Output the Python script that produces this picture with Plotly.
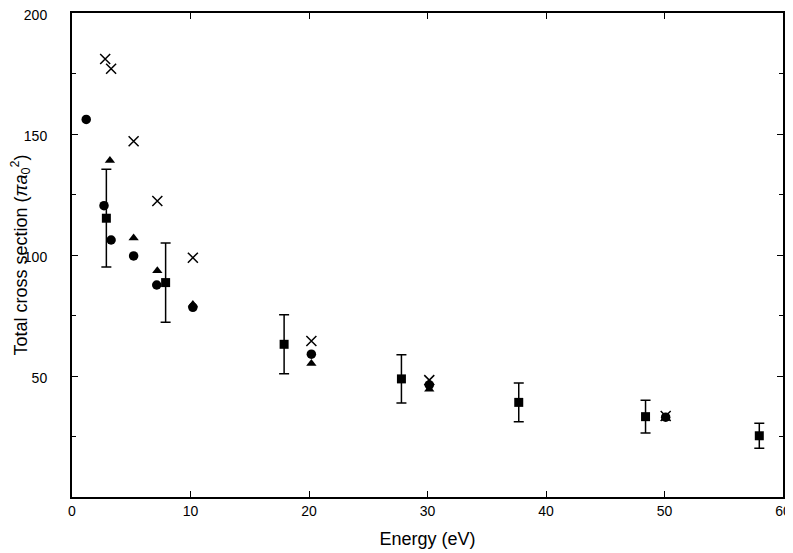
import plotly.graph_objects as go

# =========================
# 0. DATA
# =========================
# measured points, squares with error bars
sq_energy = [2.9, 7.9, 17.9, 27.8, 37.7, 48.4, 58.0]
sq_sigma = [115.2, 88.6, 63.1, 48.8, 39.1, 33.2, 25.3]
sq_err = [20.2, 16.4, 12.2, 10.0, 8.0, 6.8, 5.2]

# circles
ci_energy = [1.2, 2.7, 3.3, 5.2, 7.15, 10.2, 20.2, 30.15, 50.1]
ci_sigma = [156.0, 120.4, 106.2, 99.6, 87.6, 78.4, 59.0, 46.3, 33.0]

# triangles
tr_energy = [3.2, 5.2, 7.2, 10.2, 20.2, 30.15, 50.1]
tr_sigma = [139.0, 107.0, 93.5, 79.5, 55.2, 44.5, 32.5]

# crosses
cr_energy = [2.8, 3.3, 5.2, 7.2, 10.2, 20.2, 30.15, 50.1]
cr_sigma = [181.0, 177.0, 147.0, 122.3, 98.9, 64.5, 48.3, 33.5]

X_TICKS = [0, 10, 20, 30, 40, 50, 60]
Y_TICKS = [50, 100, 150, 200]

# =========================
# 1. BUILD FIGURE
# =========================
fig = go.Figure()

fig.add_trace(go.Scatter(
    x=cr_energy, y=cr_sigma, mode="markers",
    marker=dict(symbol="x-thin-open", size=10, color="black",
                line=dict(color="black", width=1.5)),
))
fig.add_trace(go.Scatter(
    x=tr_energy, y=tr_sigma, mode="markers",
    marker=dict(symbol="triangle-up", size=9, color="black"),
))
fig.add_trace(go.Scatter(
    x=ci_energy, y=ci_sigma, mode="markers",
    marker=dict(symbol="circle", size=9.5, color="black"),
))
fig.add_trace(go.Scatter(
    x=sq_energy, y=sq_sigma, mode="markers",
    marker=dict(symbol="square", size=9, color="black"),
    error_y=dict(type="data", array=sq_err, visible=True,
                 color="black", thickness=1.5, width=5),
))

axis_style = dict(
    showline=True, linecolor="black", linewidth=2, mirror="ticks",
    ticks="inside", ticklen=6, tickwidth=1, tickcolor="black",
    showgrid=False, zeroline=False, automargin=False,
    ticklabeloverflow="allow",
    tickfont=dict(family="Liberation Sans, Arial", size=14, color="black"),
)

fig.update_xaxes(
    range=[0, 60], tickvals=X_TICKS,
    title=dict(text="Energy (eV)", font=dict(size=18)),
    **axis_style
)
fig.update_yaxes(
    range=[0, 200], tickvals=Y_TICKS, ticklabelstandoff=20, ticklabelshift=2,
    minor=dict(dtick=25, ticks="inside", ticklen=4, tickcolor="black"),
    title=dict(text="Total cross section (<i>πa</i><sub>0</sub><sup>2</sup>)",
               font=dict(size=18)),
    **axis_style
)

# page body has an 8 px margin, so the figure is a bit smaller than the window
fig.update_layout(
    width=785, height=545,
    margin=dict(l=64, r=10, t=5, b=56),
    paper_bgcolor="white", plot_bgcolor="white",
    showlegend=False,
    font=dict(family="Liberation Sans, Arial", color="black"),
)

fig.write_html("out.html")
